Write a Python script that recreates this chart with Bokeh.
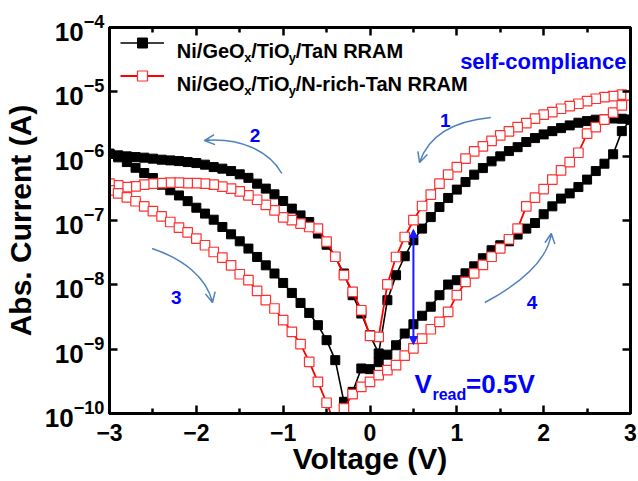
from bokeh.plotting import figure
from bokeh.models import (Range1d, FixedTicker, LinearAxis, Legend, LegendItem, Label,
                          Arrow, OpenHead, NormalHead, CustomJSTickFormatter, LogTickFormatter)
from bokeh.embed import file_html
from bokeh.resources import INLINE

# ---------------- data ----------------
# sweep order: 1 (3 -> 0), 2 (0 -> -3), 3 (-3 -> 0), 4 (0 -> 3)
V_B1 = [3.0, 2.9, 2.8, 2.7, 2.6, 2.5, 2.4, 2.3, 2.2, 2.1, 2.0, 1.9, 1.8, 1.7, 1.6, 1.5,
        1.4, 1.3, 1.2, 1.1, 1.0, 0.9, 0.8, 0.7, 0.6, 0.5, 0.4, 0.3, 0.2, 0.1, 0.0]
V_B2 = [-0.1, -0.2, -0.3, -0.4, -0.5, -0.6, -0.7, -0.8, -0.9, -1.0, -1.1, -1.2, -1.3, -1.4, -1.5,
        -1.6, -1.7, -1.8, -1.9, -2.0, -2.1, -2.2, -2.3, -2.4, -2.5, -2.6, -2.7, -2.8, -2.9, -3.0]
V_B3 = [-3.0, -2.9, -2.8, -2.7, -2.6, -2.5, -2.4, -2.3, -2.2, -2.1, -2.0, -1.9, -1.8, -1.7, -1.6,
        -1.5, -1.4, -1.3, -1.2, -1.1, -1.0, -0.9, -0.8, -0.7, -0.6, -0.5, -0.4, -0.3, -0.2, -0.1]
V_B4 = [0.0, 0.1, 0.2, 0.3, 0.4, 0.5, 0.6, 0.7, 0.8, 0.9, 1.0, 1.1, 1.2, 1.3, 1.4, 1.5,
        1.6, 1.7, 1.8, 1.9, 2.0, 2.1, 2.2, 2.3, 2.4, 2.5, 2.6, 2.7, 2.8, 2.9, 3.0]

# Ni/GeOx/TiOy/TaN RRAM (black)
TAN_B1 = [3.69e-6, 3.82e-6, 3.85e-6, 3.73e-6, 3.69e-6, 3.51e-6, 3.31e-6, 3.01e-6, 2.73e-6, 2.45e-6,
          2.18e-6, 1.91e-6, 1.66e-6, 1.38e-6, 1.20e-6, 9.93e-7, 8.30e-7, 6.53e-7, 5.16e-7, 3.96e-7,
          3.02e-7, 2.24e-7, 1.62e-7, 1.13e-7, 7.48e-8, 4.93e-8, 2.78e-8, 1.41e-8, 5.77e-9, 8.58e-10,
          1.65e-9]
TAN_B2 = [3.58e-9, 6.90e-9, 1.50e-8, 2.71e-8, 4.20e-8, 6.26e-8, 9.48e-8, 1.20e-7, 1.53e-7, 2.01e-7,
          2.55e-7, 3.13e-7, 3.74e-7, 4.60e-7, 5.22e-7, 5.87e-7, 6.40e-7, 6.77e-7, 7.38e-7, 7.81e-7,
          8.10e-7, 8.39e-7, 8.60e-7, 8.82e-7, 9.15e-7, 9.48e-7, 9.68e-7, 9.93e-7, 1.03e-6, 1.09e-6]
TAN_B3 = [1.09e-6, 9.58e-7, 8.10e-7, 6.60e-7, 5.46e-7, 4.57e-7, 3.61e-7, 2.95e-7, 2.45e-7, 2.00e-7,
          1.58e-7, 1.28e-7, 1.03e-7, 7.93e-8, 6.10e-8, 4.75e-8, 3.66e-8, 2.71e-8, 2.01e-8, 1.50e-8,
          1.07e-8, 7.48e-9, 5.23e-9, 3.66e-9, 2.36e-9, 1.38e-9, 6.75e-10, 1.52e-10, 2.17e-10, 5.01e-10]
TAN_B4 = [4.89e-10, 6.28e-10, 8.22e-10, 1.15e-9, 1.75e-9, 2.44e-9, 3.31e-9, 4.57e-9, 6.90e-9, 1.01e-8,
          1.18e-8, 1.51e-8, 1.94e-8, 2.59e-8, 3.45e-8, 4.12e-8, 4.75e-8, 6.04e-8, 7.48e-8, 9.14e-8,
          1.25e-7, 1.66e-7, 2.19e-7, 2.64e-7, 3.31e-7, 4.32e-7, 5.87e-7, 7.64e-7, 1.07e-6, 2.45e-6,
          3.69e-6]

# Ni/GeOx/TiOy/N-rich-TaN RRAM (red)
NTAN_B1 = [8.79e-6, 9.02e-6, 8.58e-6, 8.27e-6, 7.81e-6, 7.17e-6, 6.53e-6, 6.00e-6, 5.46e-6, 4.84e-6,
           4.41e-6, 3.82e-6, 3.27e-6, 2.83e-6, 2.43e-6, 2.10e-6, 1.73e-6, 1.42e-6, 1.19e-6, 9.15e-7,
           6.77e-7, 5.16e-7, 3.74e-7, 2.53e-7, 1.68e-7, 1.01e-7, 5.54e-8, 2.71e-8, 1.02e-8, 1.55e-9,
           1.61e-9]
NTAN_B2 = [4.03e-9, 7.76e-9, 1.42e-8, 2.73e-8, 4.70e-8, 7.48e-8, 7.93e-8, 8.95e-8, 1.01e-7, 1.12e-7,
           1.44e-7, 1.75e-7, 2.10e-7, 2.46e-7, 2.84e-7, 3.13e-7, 3.36e-7, 3.61e-7, 3.74e-7, 3.82e-7,
           3.82e-7, 3.88e-7, 3.88e-7, 3.82e-7, 3.74e-7, 3.61e-7, 3.40e-7, 3.31e-7, 3.52e-7, 3.74e-7]
NTAN_B3 = [2.94e-7, 2.64e-7, 2.29e-7, 1.99e-7, 1.66e-7, 1.40e-7, 1.16e-7, 9.48e-8, 7.76e-8, 6.56e-8,
           5.24e-8, 4.12e-8, 3.24e-8, 2.65e-8, 2.01e-8, 1.46e-8, 1.18e-8, 8.04e-9, 5.77e-9, 4.29e-9,
           2.82e-9, 1.86e-9, 1.20e-9, 6.35e-10, 3.11e-10, 1.47e-10, 6.6e-11, 1.20e-10, 2.00e-10, 2.60e-10]
NTAN_B4 = [3.11e-10, 3.95e-10, 4.72e-10, 5.64e-10, 7.92e-10, 1.03e-9, 1.46e-9, 2.04e-9, 2.65e-9, 3.80e-9,
           6.90e-9, 1.11e-8, 1.51e-8, 2.05e-8, 2.73e-8, 3.70e-8, 5.11e-8, 7.48e-8, 1.66e-7, 2.27e-7,
           3.08e-7, 4.32e-7, 6.02e-7, 8.10e-7, 1.13e-6, 2.24e-6, 2.83e-6, 3.69e-6, 4.74e-6, 6.15e-6,
           8.79e-6]

X_TICKS = [-3, -2, -1, 0, 1, 2, 3]
X_MINOR = [-2.5, -1.5, -0.5, 0.5, 1.5, 2.5]
Y_TICKS = [1e-10, 1e-9, 1e-8, 1e-7, 1e-6, 1e-5, 1e-4]
V_READ = 0.5

LEG1 = ["Ni/GeO", "x", "/TiO", "y", "/TaN RRAM"]
LEG2 = ["Ni/GeO", "x", "/TiO", "y", "/N-rich-TaN RRAM"]

# ---------------- layout ----------------
W, H = 638, 481
FL, FR, FT, FB = 104, 630, 27, 413
FONT = "Liberation Sans"
BLUE = "#0000ff"
ARROW_C = "#4f81bd"


def dx(px):
    return -3 + (px - FL) * 6.0 / (FR - FL)


def dy(py):
    return 10 ** (-4 - (py - FT) * 6.0 / (FB - FT))


p = figure(width=W, height=H, x_range=Range1d(-3, 3), y_range=Range1d(1e-10, 1e-4),
           y_axis_type="log", output_backend="svg", toolbar_location=None,
           min_border_left=FL, min_border_right=W - FR, min_border_top=FT, min_border_bottom=H - FB)
p.grid.visible = False
p.outline_line_color = "black"
p.outline_line_width = 3
p.background_fill_color = "white"
p.border_fill_color = "white"

for ax in (p.xaxis[0], p.yaxis[0]):
    ax.axis_line_width = 3
    ax.major_tick_in = 8
    ax.major_tick_out = 0
    ax.major_tick_line_width = 2.5
    ax.minor_tick_in = 5
    ax.minor_tick_out = 0
    ax.minor_tick_line_width = 2.5
    ax.major_label_text_font = FONT
    ax.major_label_text_font_style = "bold"
    ax.major_label_text_color = "black"
    ax.axis_label_text_font = FONT
    ax.axis_label_text_font_style = "bold"
    ax.axis_label_text_font_size = "30px"
    ax.axis_label_text_color = "black"

p.xaxis.ticker = FixedTicker(ticks=X_TICKS, minor_ticks=X_MINOR)
p.xaxis.major_label_text_font_size = "23px"
p.xaxis.major_label_standoff = 10
p.xaxis.axis_label = "Voltage (V)"
p.xaxis.axis_label_standoff = -2

p.yaxis.ticker = FixedTicker(ticks=Y_TICKS)
p.yaxis.formatter = LogTickFormatter()
p.yaxis.major_label_text_font_size = "26px"
p.yaxis.major_label_standoff = 5
p.yaxis.minor_tick_line_color = None
p.yaxis.axis_label = "Abs. Current (A)"
p.yaxis.axis_label_standoff = 5

blank = CustomJSTickFormatter(code="return ''")
top_ax = LinearAxis(ticker=FixedTicker(ticks=X_TICKS, minor_ticks=X_MINOR), formatter=blank,
                    axis_line_width=3, major_tick_in=8, major_tick_out=0, major_tick_line_width=2.5,
                    minor_tick_in=5, minor_tick_out=0, minor_tick_line_width=2.5,
                    major_label_text_font_size="0px", major_label_standoff=0)
p.add_layout(top_ax, "above")
right_ax = LinearAxis(ticker=FixedTicker(ticks=Y_TICKS), formatter=blank,
                      axis_line_width=3, major_tick_in=8, major_tick_out=0, major_tick_line_width=2.5,
                      minor_tick_line_color=None,
                      major_label_text_font_size="0px", major_label_standoff=0)
p.add_layout(right_ax, "right")

# ---------------- series ----------------
v_all = V_B1 + V_B2 + V_B3 + V_B4
tan_all = TAN_B1 + TAN_B2 + TAN_B3 + TAN_B4
ntan_all = NTAN_B1 + NTAN_B2 + NTAN_B3 + NTAN_B4

bl = p.line(v_all, tan_all, line_color="black", line_width=1.6)
bs = p.scatter(v_all, tan_all, marker="square", size=9, fill_color="black", line_color="black")
rl = p.line(v_all, ntan_all, line_color="red", line_width=1.8)
rs = p.scatter(v_all, ntan_all, marker="square", size=9.5, fill_color="white", line_color="#ff3030",
               line_width=1.2)

# ---------------- legend ----------------
legend = Legend(items=[LegendItem(label=" ", renderers=[bl, bs]),
                       LegendItem(label=" ", renderers=[rl, rs])],
                location=(11, 325), glyph_width=44, glyph_height=25, label_height=25, label_width=1,
                spacing=8, padding=0, margin=0, border_line_color=None, background_fill_alpha=0,
                label_text_font_size="1px", label_standoff=0)
p.add_layout(legend)

LEG_X = [172, 240, 247, 285, 292]
for row_txt, base in ((LEG1, 50), (LEG2, 83)):
    for i, t in enumerate(row_txt):
        sub = i in (1, 3)
        p.add_layout(Label(x=dx(LEG_X[i]), y=dy(base + (7 if sub else 0)), text=t,
                           text_font=FONT, text_font_style="bold",
                           text_font_size="13px" if sub else "20px", text_color="black",
                           text_align="left", text_baseline="alphabetic"))

# ---------------- annotations ----------------
p.add_layout(Label(x=dx(458), y=dy(61), text="self-compliance", text_font=FONT,
                   text_font_style="bold", text_font_size="22px", text_color=BLUE,
                   text_align="left", text_baseline="alphabetic"))

for t, (cx, by) in zip(["1", "2", "3", "4"], [(443, 119.5), (251, 135), (171.5, 297), (530.5, 302)]):
    p.add_layout(Label(x=dx(cx), y=dy(by), text=t, text_font=FONT, text_font_style="bold",
                       text_font_size="19px", text_color=BLUE, text_align="center",
                       text_baseline="alphabetic"))

# V_read label
p.add_layout(Label(x=dx(412), y=dy(383), text="V", text_font=FONT, text_font_style="bold",
                   text_font_size="26px", text_color=BLUE, text_baseline="alphabetic"))
p.add_layout(Label(x=dx(430), y=dy(394), text="read", text_font=FONT, text_font_style="bold",
                   text_font_size="16px", text_color=BLUE, text_baseline="alphabetic"))
p.add_layout(Label(x=dx(464), y=dy(383), text="=0.5V", text_font=FONT, text_font_style="bold",
                   text_font_size="26px", text_color=BLUE, text_baseline="alphabetic"))

# double arrow at V_read
p.add_layout(Arrow(start=NormalHead(size=8, fill_color="#1a1aff", line_color="#1a1aff"),
                   end=NormalHead(size=8, fill_color="#1a1aff", line_color="#1a1aff"),
                   x_start=V_READ, y_start=dy(229), x_end=V_READ, y_end=dy(344),
                   line_color="#1a1aff", line_width=2))

# curved sweep-direction arrows (pixel geometry)
CURVES = [
    ((489, 117), (447, 121), (425, 138), (417, 162)),
    ((278, 173), (265, 150), (235, 137), (200, 140)),
    ((147, 248), (177, 258), (202, 276), (208, 302)),
    ((483, 302), (515, 285), (546, 262), (550, 233)),
]
p.bezier(x0=[dx(c[0][0]) for c in CURVES], y0=[dy(c[0][1]) for c in CURVES],
         x1=[dx(c[3][0]) for c in CURVES], y1=[dy(c[3][1]) for c in CURVES],
         cx0=[dx(c[1][0]) for c in CURVES], cy0=[dy(c[1][1]) for c in CURVES],
         cx1=[dx(c[2][0]) for c in CURVES], cy1=[dy(c[2][1]) for c in CURVES],
         line_color=ARROW_C, line_width=1.5)
for c in CURVES:
    (ex, ey), (kx, ky) = c[3], c[2]
    sx, sy = ex - 0.15 * (ex - kx), ey - 0.15 * (ey - ky)
    p.add_layout(Arrow(end=OpenHead(size=10, line_color=ARROW_C, line_width=1.5),
                       x_start=dx(sx), y_start=dy(sy), x_end=dx(ex), y_end=dy(ey),
                       line_color=ARROW_C, line_width=1.5))

open("out.html", "w").write(file_html(p, INLINE))
